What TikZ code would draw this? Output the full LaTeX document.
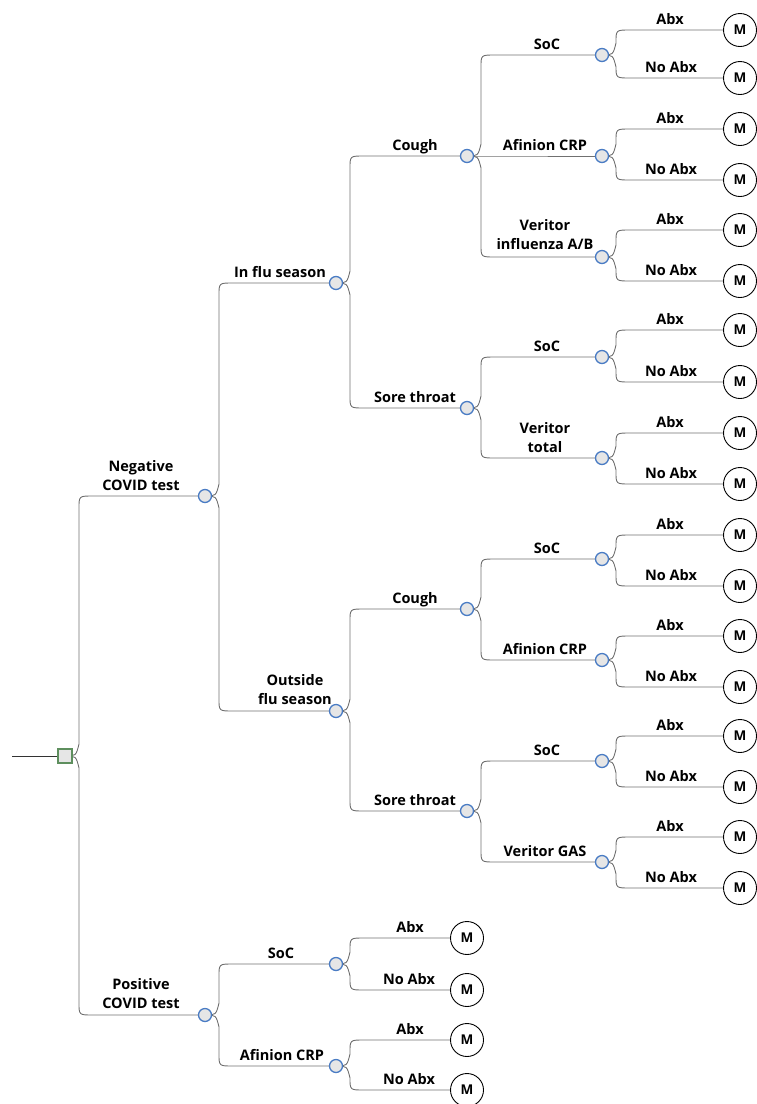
\documentclass[tikz,border=0pt]{standalone}
\usepackage{fontspec}
\setmainfont{Open Sans}
\usetikzlibrary{backgrounds,calc}
\definecolor{brgray}{HTML}{707070}
\definecolor{chblue}{HTML}{4A7CC4}
\definecolor{chfill}{HTML}{E6E6E6}
\definecolor{decgreen}{HTML}{5E8F5E}
\tikzset{
 chance/.style={circle, draw=chblue, fill=chfill, line width=1.3pt, minimum size=13pt, inner sep=0pt},
 decision/.style={rectangle, draw=decgreen, fill=chfill, line width=1.3pt, minimum size=14pt, inner sep=0pt},
 term/.style={circle, draw=black, fill=white, line width=0.9pt, minimum size=33pt, inner sep=0pt, font=\bfseries\fontsize{13.5}{15}\selectfont},
 lbl/.style={anchor=base, align=center, inner sep=0pt, font=\bfseries\fontsize{14.5}{19}\selectfont},
 branch/.style={draw=brgray, line width=0.9pt},
 rootline/.style={draw=black!80, line width=0.9pt},
}
\newcommand\brc[2]{%
 \draw[branch] let \p1=(#1.center), \p2=(#2.center), \n1={sign((\y2)-(\y1))} in
 (\p1) .. controls ({\x1+11pt},{\y1}) .. ({\x1+14pt},{\y1+12pt*(\n1)})
 -- ({\x1+14pt},{\y2-12pt*(\n1)}) .. controls ({\x1+14pt},{\y2}) .. ({\x1+28pt},{\y2}) -- (\p2);}
\begin{document}
\begin{tikzpicture}[x=1pt,y=-1pt]
\useasboundingbox (0,0) rectangle (757,1104);
% decision and chance nodes
\node[decision] (root) at (65,756) {};
\coordinate (start) at (12,756);
\node[chance] (neg) at (205,496) {};
\node[chance] (pos) at (205,1015) {};
\node[chance] (flu) at (336,283) {};
\node[chance] (out) at (336,711) {};
\node[chance] (psoc) at (336,964) {};
\node[chance] (pcrp) at (336,1066) {};
\node[chance] (fc) at (467,156) {};
\node[chance] (fs) at (467,408) {};
\node[chance] (oc) at (467,609) {};
\node[chance] (os) at (467,811) {};
\node[chance] (a1) at (602,55) {};
\node[chance] (a2) at (602,156) {};
\node[chance] (a3) at (602,257) {};
\node[chance] (b1) at (602,357) {};
\node[chance] (b2) at (602,458) {};
\node[chance] (c1) at (602,559) {};
\node[chance] (c2) at (602,660) {};
\node[chance] (d1) at (602,761) {};
\node[chance] (d2) at (602,862) {};
% terminal nodes
\node[term] (a1y) at (740,30) {M};
\node[term] (a1n) at (740,78) {M};
\node[term] (a2y) at (740,129) {M};
\node[term] (a2n) at (740,180) {M};
\node[term] (a3y) at (740,230) {M};
\node[term] (a3n) at (740,281) {M};
\node[term] (b1y) at (740,330) {M};
\node[term] (b1n) at (740,382) {M};
\node[term] (b2y) at (740,433) {M};
\node[term] (b2n) at (740,484) {M};
\node[term] (c1y) at (740,535) {M};
\node[term] (c1n) at (740,586) {M};
\node[term] (c2y) at (740,636) {M};
\node[term] (c2n) at (740,687) {M};
\node[term] (d1y) at (740,736) {M};
\node[term] (d1n) at (740,787) {M};
\node[term] (d2y) at (740,837) {M};
\node[term] (d2n) at (740,888) {M};
\node[term] (psy) at (467,938) {M};
\node[term] (psn) at (467,990) {M};
\node[term] (pcy) at (467,1040) {M};
\node[term] (pcn) at (467,1090) {M};
% connectors
\begin{pgfonlayer}{background}
\draw[rootline] (start) -- (root);
\brc{root}{neg}\brc{root}{pos}
\brc{neg}{flu}\brc{neg}{out}
\brc{pos}{psoc}\brc{pos}{pcrp}
\brc{flu}{fc}\brc{flu}{fs}
\brc{out}{oc}\brc{out}{os}
\brc{fc}{a1}\brc{fc}{a2}\brc{fc}{a3}
\brc{fs}{b1}\brc{fs}{b2}
\brc{oc}{c1}\brc{oc}{c2}
\brc{os}{d1}\brc{os}{d2}
\brc{a1}{a1y}\brc{a1}{a1n}
\brc{a2}{a2y}\brc{a2}{a2n}
\brc{a3}{a3y}\brc{a3}{a3n}
\brc{b1}{b1y}\brc{b1}{b1n}
\brc{b2}{b2y}\brc{b2}{b2n}
\brc{c1}{c1y}\brc{c1}{c1n}
\brc{c2}{c2y}\brc{c2}{c2n}
\brc{d1}{d1y}\brc{d1}{d1n}
\brc{d2}{d2y}\brc{d2}{d2n}
\brc{psoc}{psy}\brc{psoc}{psn}
\brc{pcrp}{pcy}\brc{pcrp}{pcn}
\end{pgfonlayer}
% labels
\node[lbl] (lneg) at (141,490) {Negative\\COVID test};
\node[lbl] (lpos) at (141,1008) {Positive\\COVID test};
\node[lbl] (lflu) at (280,277) {In flu season};
\node[lbl] (lout) at (295,704) {Outside\\flu season};
\node[lbl] (lpsoc) at (281,958) {SoC};
\node[lbl] (lpcrp) at (282,1060) {Afinion CRP};
\node[lbl] (lfc) at (415,150) {Cough};
\node[lbl] (lfs) at (415,402) {Sore throat};
\node[lbl] (loc) at (415,603) {Cough};
\node[lbl] (los) at (415,805) {Sore throat};
\node[lbl] (la1) at (547,49) {SoC};
\node[lbl] (la2) at (545,150) {Afinion CRP};
\node[lbl] (la3) at (545,249) {Veritor\\influenza A/B};
\node[lbl] (lb1) at (547,351) {SoC};
\node[lbl] (lb2) at (545,452) {Veritor\\total};
\node[lbl] (lc1) at (547,553) {SoC};
\node[lbl] (lc2) at (545,654) {Afinion CRP};
\node[lbl] (ld1) at (547,755) {SoC};
\node[lbl] (ld2) at (545,856) {Veritor GAS};
\foreach \n/\y in {a1y/30,a2y/129,a3y/230,b1y/330,b2y/433,c1y/535,c2y/636,d1y/736,d2y/837}
  \node[lbl] (l\n) at (670,\y-6) {Abx};
\foreach \n/\y in {a1n/78,a2n/180,a3n/281,b1n/382,b2n/484,c1n/586,c2n/687,d1n/787,d2n/888}
  \node[lbl] (l\n) at (671,\y-6) {No Abx};
\node[lbl] (lpsy) at (410,932) {Abx};
\node[lbl] (lpsn) at (409,984) {No Abx};
\node[lbl] (lpcy) at (410,1034) {Abx};
\node[lbl] (lpcn) at (409,1084) {No Abx};
\end{tikzpicture}
\end{document}
